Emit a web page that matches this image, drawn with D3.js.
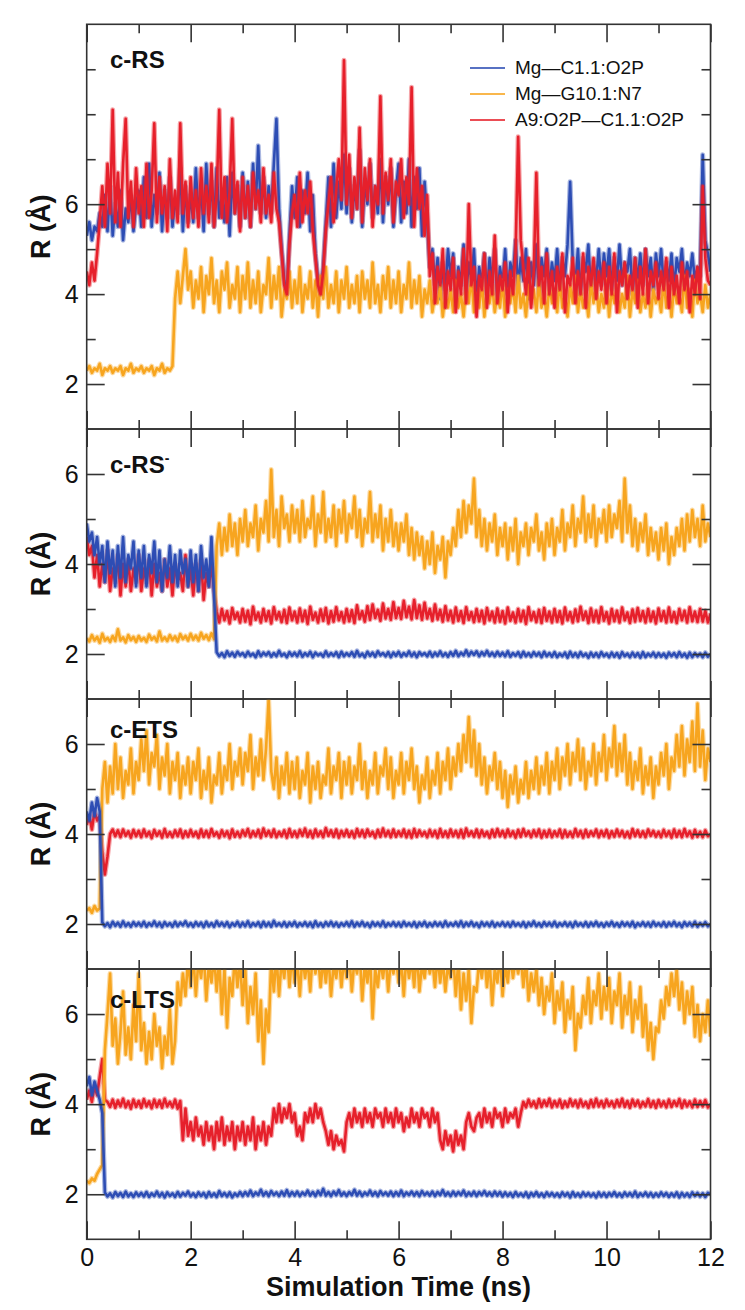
<!DOCTYPE html>
<html>
<head>
<meta charset="utf-8">
<script src="https://cdn.jsdelivr.net/npm/d3@7/dist/d3.min.js"></script>
<style>
  body { margin: 0; background: #fff; }
  text { font-family: "Liberation Sans", Arial, Helvetica, sans-serif; fill: #111; }
</style>
</head>
<body>
<div id="chart"></div>
<script>
// sampling step of the traces (ns)
const dt = 0.05;

const seriesNames = ["Mg\u2014C1.1:O2P", "Mg\u2014G10.1:N7", "A9:O2P\u2014C1.1:O2P"];
const panelNames = ["c-RS", "c-RS", "c-ETS", "c-LTS"];
const xTicks = [0, 2, 4, 6, 8, 10, 12];
const xMinor = [1, 3, 5, 7, 9, 11];
const yTicks = [2, 4, 6];

// ---- c-RS ----
const rsMgC1 = [
  5.3,5.6,5.2,5.5,5.4,5.8,5.5,6.2,5.4,6.4,5.3,6.0,5.5,6.3,5.2,5.9,5.6,6.2,5.4,6.0,
  6.3,5.5,6.6,5.7,6.9,5.5,6.2,5.8,6.7,5.4,6.3,5.7,6.6,5.5,6.1,5.8,6.8,5.4,6.4,5.6,
  6.2,5.6,6.8,5.7,6.4,5.4,6.9,5.8,6.5,5.5,6.8,5.7,6.2,5.6,6.6,5.3,6.7,5.8,6.4,5.5,
  6.7,5.7,6.5,5.5,6.9,5.9,7.3,5.8,6.6,5.7,6.4,5.8,6.9,7.9,5.9,5.0,4.3,4.0,5.3,6.4,
  5.7,6.6,5.5,6.3,5.8,6.7,5.4,6.2,4.9,4.3,4.0,4.6,5.6,6.6,5.5,6.9,5.7,6.5,5.9,7.1,
  5.8,6.8,5.6,6.4,5.9,7.2,5.5,6.5,6.0,6.9,5.7,6.4,5.8,7.0,5.6,6.6,6.0,6.8,5.5,6.3,
  6.9,5.6,6.5,5.8,7.0,5.5,6.6,5.9,6.8,5.3,6.5,5.6,4.6,5.0,4.2,4.8,3.9,4.7,4.1,5.0,
  4.4,4.9,3.9,4.6,4.2,5.1,4.0,4.7,4.3,5.0,3.8,4.6,4.2,4.9,4.0,4.8,4.3,5.0,3.9,4.6,
  4.2,5.0,4.0,4.7,4.4,5.2,4.1,4.8,4.3,5.0,3.9,4.7,4.2,5.1,4.0,4.8,4.4,5.0,4.1,4.7,
  4.3,5.0,4.1,4.8,4.4,5.1,6.5,4.7,4.2,5.0,4.0,4.8,4.5,5.1,4.1,4.7,4.3,5.0,4.2,4.9,
  4.4,5.0,4.1,4.8,4.3,5.1,4.2,4.7,4.5,5.0,4.0,4.8,4.3,4.9,4.2,5.0,4.4,4.8,4.1,4.9,
  4.4,5.0,4.2,4.7,4.3,4.9,4.1,4.8,4.5,5.0,4.2,4.7,4.4,4.9,4.3,4.6,4.4,7.1,5.2,4.9,
  4.5
];
const rsMgG10 = [
  2.3,2.4,2.25,2.35,2.3,2.45,2.2,2.35,2.3,2.4,2.25,2.35,2.3,2.4,2.2,2.35,2.3,2.45,2.25,2.35,
  2.3,2.4,2.25,2.35,2.3,2.4,2.2,2.35,2.3,2.45,2.25,2.35,2.3,2.4,3.9,4.5,3.8,4.4,5.0,4.1,
  4.5,3.7,4.3,3.9,4.6,3.6,4.4,4.0,4.8,3.8,4.3,3.6,4.5,4.1,4.7,3.7,4.2,3.9,4.6,3.6,
  4.4,3.9,4.7,3.7,4.3,3.8,4.5,3.6,4.2,4.0,4.8,3.7,4.4,3.9,4.6,3.5,4.1,3.9,4.5,3.7,
  4.3,3.8,4.6,3.6,4.2,3.9,4.5,3.7,4.3,3.5,4.4,3.9,4.6,3.7,4.2,3.8,4.5,3.6,4.3,3.9,
  4.6,3.7,4.2,3.8,4.4,3.6,4.5,3.9,4.3,3.7,4.7,3.8,4.2,3.6,4.4,3.9,4.6,3.7,4.3,3.8,
  4.5,3.6,4.2,3.9,4.7,3.7,4.3,3.8,4.4,3.5,4.1,3.8,4.3,3.6,4.0,3.8,4.2,3.5,4.0,3.7,
  4.1,3.6,4.3,3.7,4.0,3.5,4.2,3.8,4.4,3.6,4.0,3.7,4.3,3.5,4.1,3.8,4.2,3.6,4.0,3.7,
  4.3,3.5,4.1,3.8,4.2,3.6,4.4,3.7,4.0,3.5,4.2,3.8,4.1,3.6,4.3,3.7,4.0,3.5,4.2,3.8,
  4.1,3.6,4.3,3.7,4.0,3.5,4.2,3.8,4.4,3.6,4.1,3.7,4.0,3.5,4.3,3.8,4.2,3.6,4.0,3.7,
  4.3,3.5,4.1,3.8,4.2,3.6,4.0,3.7,4.4,3.5,4.1,3.8,4.3,3.6,4.0,3.7,4.2,3.5,4.1,3.8,
  4.0,3.6,4.3,3.7,4.1,3.5,4.2,3.8,4.0,3.6,4.4,3.7,4.1,3.5,4.3,3.8,4.0,3.6,4.2,3.7,
  4.0
];
const rsA9C1 = [
  4.5,4.2,4.7,4.3,4.9,5.6,6.4,5.5,6.9,5.8,8.1,5.6,6.7,5.5,6.9,7.9,5.7,6.5,5.5,6.8,
  5.8,6.4,5.5,6.9,5.7,6.3,7.8,5.6,6.6,5.8,6.4,5.4,7.0,5.7,6.3,5.6,7.8,5.8,6.5,5.5,
  6.6,5.7,6.3,5.5,6.8,5.8,6.4,5.6,6.9,5.5,6.2,8.1,5.7,6.6,5.6,6.3,7.9,5.8,6.5,5.4,
  6.6,5.7,6.4,5.5,6.7,5.9,6.3,5.6,6.8,5.8,6.2,5.6,6.7,5.9,5.6,4.9,4.2,4.0,5.1,5.8,
  6.2,5.5,6.7,5.6,6.3,5.8,6.5,5.4,4.8,4.2,4.0,4.5,5.4,6.0,6.6,5.6,6.3,7.0,6.1,9.2,
  6.0,7.1,5.7,6.6,5.9,7.7,5.6,6.8,6.1,7.0,5.5,6.4,6.0,8.4,5.8,6.7,6.1,7.0,5.6,6.5,
  6.2,7.0,5.7,6.6,6.0,8.6,5.5,6.8,5.9,6.4,5.3,6.2,4.4,4.9,3.8,4.6,4.2,5.0,3.7,4.5,
  4.1,4.8,3.6,4.5,4.0,5.0,3.8,6.0,4.2,4.6,3.5,4.4,4.1,4.9,3.7,4.5,4.0,5.3,3.8,4.4,
  4.1,4.7,3.6,4.5,4.0,4.9,7.5,5.2,4.6,4.0,4.8,3.7,4.5,6.7,4.2,4.6,3.8,4.9,4.0,4.5,
  3.7,4.6,4.1,4.9,3.6,4.4,4.2,4.8,3.8,4.5,4.0,4.9,3.7,4.6,4.2,4.8,3.9,4.5,4.1,4.7,
  3.8,4.6,4.0,4.9,3.6,4.5,4.2,4.7,3.9,4.4,4.1,4.8,3.7,4.6,4.0,5.0,3.8,4.5,4.2,4.7,
  3.9,4.5,4.1,4.8,3.7,4.6,4.0,4.4,3.8,4.7,4.1,4.5,3.6,4.4,4.0,4.6,3.9,6.4,4.8,4.3,
  4.2
];

// ---- c-RS- ----
const rsmMgC1 = [
  4.9,4.5,4.7,4.2,4.6,4.0,4.4,3.6,4.5,3.8,4.3,3.5,4.4,3.7,4.6,3.6,4.2,3.9,4.5,3.5,
  4.3,3.7,4.4,3.5,4.2,3.8,4.5,3.6,4.3,3.4,4.1,3.7,4.4,3.6,4.2,3.5,4.3,3.8,4.1,3.5,
  4.3,3.6,4.2,3.4,4.4,3.7,4.1,3.5,4.6,3.3,2.04,1.95,2.02,1.93,2.06,1.96,2.03,1.94,2.05,1.97,
  2.02,1.94,2.05,1.96,2.01,1.93,2.06,1.95,2.03,1.97,2.04,1.94,2.02,1.95,2.07,1.96,2.01,1.93,2.04,1.96,
  2.03,1.95,2.06,1.94,2.02,1.96,2.05,1.93,2.03,1.97,2.01,1.94,2.06,1.95,2.02,1.96,2.04,1.93,2.05,1.95,
  2.02,1.96,2.04,1.94,2.07,1.95,2.01,1.93,2.05,1.96,2.03,1.94,2.06,1.97,2.02,1.95,2.04,1.93,2.03,1.96,
  2.05,1.94,2.02,1.96,2.06,1.95,2.03,1.93,2.04,1.97,2.02,1.95,2.05,1.94,2.03,1.96,2.06,1.95,2.02,1.94,
  2.04,1.96,2.07,1.95,2.03,1.97,2.08,1.96,2.05,1.98,2.06,1.95,2.04,1.97,2.07,1.96,2.03,1.95,2.05,1.96,
  2.03,1.95,2.06,1.94,2.02,1.96,2.04,1.93,2.05,1.95,2.02,1.94,2.04,1.96,2.03,1.93,2.05,1.95,2.02,1.94,
  2.04,1.93,2.01,1.95,2.03,1.92,2.05,1.94,2.02,1.93,2.04,1.95,2.01,1.92,2.03,1.94,2.02,1.93,2.04,1.95,
  2.01,1.93,2.03,1.94,2.02,1.92,2.04,1.95,2.01,1.93,2.03,1.94,2.02,1.92,2.04,1.93,2.01,1.95,2.03,1.93,
  2.02,1.94,2.01,1.92,2.03,1.95,2.02,1.93,2.04,1.94,2.01,1.92,2.03,1.93,2.02,1.95,2.01,1.93,2.03,1.94,
  2.0
];
const rsmMgG10 = [
  2.35,2.28,2.42,2.3,2.38,2.25,2.45,2.3,2.36,2.27,2.4,2.29,2.55,2.3,2.37,2.26,2.42,2.31,2.38,2.27,
  2.4,2.3,2.36,2.27,2.43,2.32,2.38,2.28,2.5,2.3,2.37,2.29,2.42,2.31,2.39,2.28,2.44,2.33,2.4,2.3,
  2.45,2.32,2.41,2.3,2.47,2.34,2.42,2.31,2.46,2.33,4.4,4.9,4.2,4.8,4.3,5.1,4.4,4.9,4.2,5.0,
  4.5,5.2,4.4,4.9,4.6,5.3,4.3,5.0,4.7,5.4,4.5,6.1,4.6,5.2,4.4,5.5,4.8,5.1,4.5,5.3,
  4.7,5.2,4.5,5.4,4.6,5.0,4.8,5.5,4.4,5.1,4.7,5.6,4.5,5.0,4.6,5.3,4.4,5.2,4.7,5.4,
  4.5,5.1,4.8,5.5,4.6,5.2,4.4,5.0,4.7,5.6,4.5,5.1,4.6,5.3,4.3,5.0,4.5,5.2,4.4,4.9,
  4.3,4.9,4.5,5.1,4.2,4.8,4.1,4.7,4.2,4.6,3.9,4.5,4.0,4.7,3.8,4.4,4.1,4.6,3.7,4.5,
  4.2,4.8,4.4,5.2,4.6,5.4,4.7,5.3,4.9,5.9,4.6,5.2,4.4,5.0,4.3,4.9,4.5,5.1,4.2,4.8,
  4.4,4.9,4.1,4.8,4.3,5.0,4.0,4.7,4.4,4.9,4.2,4.8,4.5,5.1,4.3,4.7,4.1,4.9,4.4,5.0,
  4.2,4.8,4.5,5.2,4.3,4.9,4.6,5.3,4.4,5.0,4.7,5.5,4.5,5.1,4.6,5.3,4.4,5.0,4.7,5.2,
  4.5,5.3,4.6,5.1,4.8,5.4,4.5,5.9,4.7,5.3,4.4,5.0,4.3,4.9,4.5,5.1,4.2,4.8,4.3,4.7,
  4.1,4.8,4.3,4.9,4.0,4.6,4.2,4.8,4.4,5.0,4.3,5.1,4.5,5.2,4.6,5.0,4.4,5.3,4.5,4.9,
  4.6
];
const rsmA9C1 = [
  4.6,4.2,4.4,3.7,4.2,3.5,4.0,3.6,4.3,3.4,3.9,3.6,4.2,3.3,4.0,3.5,4.1,3.4,3.9,3.6,
  4.2,3.4,3.9,3.6,4.1,3.3,4.0,3.5,3.8,3.4,4.1,3.5,3.9,3.3,4.0,3.6,3.8,3.4,4.2,3.5,
  3.9,3.3,4.0,3.4,4.1,3.2,3.8,3.5,4.0,3.4,2.95,2.7,3.0,2.75,2.95,2.68,3.02,2.78,2.92,2.7,
  3.0,2.72,2.96,2.66,3.05,2.76,2.92,2.7,3.0,2.74,2.95,2.68,3.04,2.77,2.93,2.71,2.98,2.69,3.03,2.75,
  2.94,2.7,3.01,2.73,2.96,2.67,3.05,2.76,2.92,2.7,2.99,2.74,3.02,2.68,2.95,2.72,3.04,2.75,2.93,2.7,
  3.0,2.73,2.97,2.69,3.08,2.78,2.95,2.72,3.06,2.76,3.1,2.8,2.98,2.74,3.12,2.79,3.0,2.76,3.15,2.8,
  3.02,2.78,3.18,2.82,3.05,2.77,3.2,2.8,3.08,2.76,3.14,2.79,3.0,2.74,3.1,2.77,2.98,2.72,3.06,2.75,
  2.96,2.7,3.03,2.74,2.95,2.69,3.04,2.76,2.93,2.71,3.0,2.73,2.96,2.68,3.02,2.75,2.94,2.7,3.01,2.72,
  2.95,2.68,3.03,2.74,2.92,2.7,3.0,2.73,2.96,2.67,3.04,2.75,2.93,2.71,2.98,2.69,3.02,2.74,2.94,2.7,
  3.0,2.72,2.95,2.68,3.03,2.75,2.93,2.7,2.99,2.73,3.05,2.76,2.94,2.69,3.01,2.72,2.96,2.7,3.04,2.74,
  2.93,2.68,3.0,2.73,2.96,2.7,3.03,2.75,2.92,2.69,2.99,2.72,3.02,2.74,2.95,2.7,3.0,2.73,2.94,2.68,
  3.01,2.74,2.95,2.7,3.03,2.72,2.93,2.69,3.0,2.75,2.96,2.7,3.04,2.73,2.94,2.71,3.0,2.72,2.96,2.7,
  2.9
];

// ---- c-ETS ----
const etsMgC1 = [
  4.5,4.3,4.7,4.4,4.8,4.5,2.04,1.95,2.02,1.93,2.05,1.96,2.03,1.94,2.06,1.95,2.02,1.94,2.04,1.96,
  2.03,1.95,2.05,1.94,2.02,1.96,2.06,1.95,2.03,1.93,2.04,1.96,2.02,1.94,2.05,1.95,2.03,1.97,2.06,1.95,
  2.02,1.94,2.04,1.96,2.03,1.93,2.05,1.95,2.02,1.94,2.06,1.96,2.03,1.95,2.04,1.93,2.02,1.96,2.05,1.94,
  2.03,1.95,2.06,1.94,2.02,1.96,2.04,1.93,2.05,1.95,2.03,1.94,2.07,1.96,2.02,1.95,2.04,1.94,2.03,1.96,
  2.05,1.94,2.02,1.96,2.04,1.95,2.03,1.93,2.06,1.95,2.02,1.94,2.04,1.96,2.05,1.95,2.03,1.94,2.02,1.96,
  2.04,1.95,2.06,1.94,2.03,1.96,2.05,1.95,2.02,1.93,2.04,1.96,2.03,1.95,2.06,1.94,2.02,1.96,2.04,1.95,
  2.03,1.94,2.05,1.96,2.02,1.95,2.04,1.93,2.03,1.96,2.05,1.94,2.02,1.95,2.04,1.96,2.03,1.94,2.06,1.95,
  2.02,1.96,2.04,1.95,2.06,1.94,2.03,1.96,2.05,1.95,2.02,1.93,2.04,1.96,2.03,1.95,2.05,1.94,2.02,1.96,
  2.04,1.95,2.03,1.94,2.05,1.96,2.02,1.95,2.04,1.93,2.03,1.96,2.06,1.95,2.02,1.94,2.04,1.96,2.03,1.95,
  2.05,1.94,2.02,1.96,2.04,1.95,2.03,1.93,2.05,1.96,2.02,1.95,2.04,1.94,2.03,1.96,2.05,1.95,2.02,1.94,
  2.03,1.96,2.05,1.95,2.02,1.94,2.04,1.96,2.03,1.95,2.05,1.93,2.02,1.96,2.04,1.95,2.03,1.94,2.05,1.96,
  2.02,1.95,2.04,1.94,2.03,1.96,2.05,1.95,2.02,1.93,2.04,1.96,2.03,1.95,2.05,1.94,2.02,1.96,2.04,1.95,
  2.0
];
const etsMgG10 = [
  2.3,2.35,2.25,2.4,2.3,2.35,5.0,5.6,4.7,5.5,4.9,6.0,5.0,5.7,4.8,5.4,5.1,5.9,4.9,5.6,
  5.2,6.1,5.4,6.3,5.1,5.8,5.5,6.2,5.0,5.7,5.3,6.0,4.9,5.6,5.2,5.8,4.8,5.5,5.1,5.7,
  4.9,5.6,5.2,5.9,4.8,5.4,5.0,5.7,4.7,5.3,5.1,5.8,4.9,5.5,5.2,6.0,5.0,5.6,5.3,5.9,
  5.1,5.8,5.4,6.2,5.0,5.7,5.3,6.1,5.2,5.9,7.0,5.4,5.0,5.7,4.8,5.5,5.1,5.8,4.9,5.6,
  5.0,5.7,4.8,5.4,5.1,5.8,4.7,5.5,5.0,5.6,4.8,5.3,5.1,5.9,4.9,5.5,5.2,5.8,4.8,5.6,
  5.1,5.7,4.9,5.5,5.2,6.0,5.0,5.6,4.8,5.4,5.1,5.8,4.9,5.5,5.3,5.9,5.0,5.7,4.8,5.4,
  5.1,5.8,4.9,5.6,5.2,5.9,5.0,5.5,4.7,5.3,5.0,5.7,4.8,5.4,5.1,5.8,4.9,5.6,5.2,5.9,
  5.0,5.7,5.3,6.0,5.4,6.2,5.6,6.6,5.5,6.3,5.3,6.0,5.1,5.7,4.9,5.5,5.2,5.8,5.0,5.6,
  4.8,5.4,4.6,5.3,4.9,5.5,4.7,5.2,4.9,5.6,4.8,5.4,5.0,5.7,4.9,5.5,5.1,5.8,4.9,5.6,
  5.2,5.9,5.0,5.7,5.3,6.0,5.1,5.8,5.4,6.1,5.2,5.9,5.0,5.6,5.3,6.0,5.1,5.8,5.4,6.2,
  5.2,5.9,5.5,6.4,5.3,6.0,5.4,6.2,5.1,5.8,5.0,5.6,5.2,5.9,4.9,5.5,5.1,5.7,4.8,5.5,
  5.1,5.8,5.3,6.0,5.0,5.7,5.4,6.2,5.5,6.4,5.3,6.1,5.6,6.5,5.4,6.9,5.5,6.3,5.2,5.9,
  5.6
];
const etsA9C1 = [
  4.2,4.4,4.1,4.5,4.3,4.4,3.6,3.1,3.5,4.0,4.1,3.95,4.08,3.93,4.1,3.96,4.06,3.92,4.09,3.95,
  4.07,3.93,4.1,3.95,4.05,3.91,4.09,3.96,4.06,3.92,4.11,3.94,4.04,3.93,4.08,3.95,4.1,3.92,4.06,3.94,
  4.09,3.95,4.05,3.92,4.1,3.94,4.07,3.93,4.11,3.96,4.04,3.92,4.08,3.95,4.06,3.91,4.1,3.94,4.05,3.93,
  4.08,3.96,4.11,3.93,4.06,3.95,4.09,3.92,4.12,3.96,4.07,3.94,4.1,3.93,4.05,3.95,4.08,3.92,4.11,3.94,
  4.06,3.93,4.09,3.96,4.12,3.94,4.07,3.92,4.1,3.95,4.06,3.93,4.13,3.96,4.08,3.94,4.1,3.92,4.07,3.95,
  4.09,3.94,4.06,3.92,4.11,3.95,4.08,3.93,4.1,3.96,4.05,3.92,4.09,3.94,4.12,3.95,4.07,3.93,4.1,3.94,
  4.06,3.95,4.1,3.93,4.07,3.92,4.11,3.94,4.08,3.96,4.05,3.93,4.09,3.95,4.07,3.92,4.11,3.94,4.06,3.93,
  4.1,3.95,4.07,3.93,4.09,3.92,4.12,3.96,4.06,3.94,4.1,3.93,4.08,3.95,4.05,3.92,4.09,3.94,4.11,3.95,
  4.07,3.93,4.1,3.95,4.06,3.92,4.09,3.94,4.11,3.96,4.06,3.93,4.08,3.95,4.1,3.92,4.07,3.94,4.09,3.93,
  4.06,3.95,4.1,3.92,4.08,3.94,4.05,3.93,4.11,3.95,4.07,3.92,4.09,3.94,4.06,3.96,4.1,3.93,4.07,3.95,
  4.09,3.92,4.06,3.94,4.1,3.95,4.07,3.93,4.05,3.92,4.11,3.95,4.08,3.94,4.06,3.93,4.1,3.96,4.07,3.94,
  4.05,3.93,4.09,3.95,4.06,3.92,4.1,3.94,4.07,3.93,4.11,3.95,4.06,3.92,4.09,3.94,4.05,3.93,4.08,3.95,
  4.0
];

// ---- c-LTS ----
const ltsMgC1 = [
  4.4,4.6,4.2,4.5,4.3,4.1,3.8,2.04,1.95,2.02,1.93,2.05,1.96,2.03,1.94,2.06,1.95,2.02,1.94,2.04,
  1.96,2.03,1.95,2.05,1.94,2.02,1.96,2.06,1.95,2.03,1.93,2.04,1.96,2.02,1.94,2.05,1.95,2.03,1.97,2.06,
  1.95,2.02,1.94,2.04,1.96,2.03,1.93,2.05,1.95,2.02,1.94,2.07,1.96,2.03,1.95,2.04,1.93,2.02,1.96,2.05,
  1.96,2.05,1.97,2.08,1.96,2.04,1.98,2.1,1.97,2.05,1.96,2.07,1.98,2.04,1.96,2.06,1.97,2.09,1.96,2.05,
  1.97,2.06,1.96,2.04,1.98,2.08,1.97,2.05,1.96,2.07,1.98,2.12,1.97,2.05,1.96,2.06,1.98,2.09,1.97,2.04,
  1.96,2.05,1.98,2.1,1.97,2.06,1.96,2.04,1.98,2.08,1.97,2.05,1.96,2.07,1.98,2.04,1.97,2.06,1.96,2.05,
  1.97,2.08,1.96,2.04,1.98,2.06,1.97,2.05,1.96,2.07,1.98,2.04,1.97,2.06,1.96,2.05,1.98,2.09,1.97,2.04,
  1.96,2.06,1.97,2.05,1.98,2.08,1.96,2.04,1.97,2.06,1.96,2.05,1.98,2.07,1.97,2.04,1.96,2.06,1.97,2.05,
  1.95,2.04,1.96,2.03,1.94,2.05,1.96,2.02,1.95,2.04,1.93,2.03,1.96,2.05,1.95,2.02,1.94,2.04,1.96,2.03,
  1.95,2.02,1.94,2.04,1.96,2.03,1.93,2.05,1.95,2.02,1.94,2.04,1.96,2.03,1.95,2.02,1.93,2.04,1.95,2.03,
  1.94,2.03,1.96,2.05,1.95,2.02,1.94,2.04,1.96,2.03,1.95,2.06,1.94,2.02,1.96,2.04,1.95,2.03,1.94,2.02,
  1.95,2.04,1.96,2.03,1.94,2.02,1.95,2.04,1.93,2.03,1.95,2.02,1.94,2.04,1.96,2.03,1.95,2.02,1.94,2.03,
  2.0
];
const ltsMgG10 = [
  2.3,2.25,2.35,2.3,2.45,2.55,2.65,5.2,6.0,6.9,5.3,5.9,4.9,5.6,6.5,5.1,5.7,5.0,6.2,5.4,
  6.9,5.2,5.8,4.9,5.6,5.0,6.0,5.3,5.7,4.8,5.5,5.1,6.1,4.9,5.4,6.7,6.2,6.9,6.4,7.2,
  6.6,7.3,6.4,7.2,6.8,7.4,6.3,7.1,6.7,7.3,6.5,7.2,6.0,7.0,5.7,6.8,6.4,7.3,6.6,7.2,
  6.2,7.0,5.8,6.6,6.0,6.9,5.4,6.3,4.9,6.1,5.6,7.2,6.5,7.3,6.4,7.2,6.8,7.4,6.6,7.3,
  6.7,7.2,6.4,7.3,6.8,7.2,6.5,7.4,6.9,7.3,6.6,7.2,6.7,7.3,6.4,7.1,6.8,7.3,6.6,7.2,
  6.8,7.3,6.5,7.2,6.9,7.4,6.3,7.1,6.7,7.3,5.9,7.0,6.6,7.2,6.8,7.3,6.5,7.2,6.9,7.3,
  6.7,7.2,6.4,7.3,6.8,7.2,6.6,7.4,6.5,7.1,6.8,7.3,6.9,7.2,6.6,7.3,6.7,7.2,6.5,7.1,
  6.8,7.3,6.4,7.2,6.1,6.9,6.3,7.0,5.8,6.6,6.5,7.2,6.8,7.3,6.6,7.2,6.2,7.0,6.7,7.3,
  6.4,7.1,6.7,7.3,6.8,7.2,6.9,7.3,6.6,7.2,6.3,6.9,6.5,7.0,6.2,6.8,6.0,6.6,6.3,6.9,
  5.8,6.5,6.1,6.7,5.6,6.3,5.9,6.6,5.2,6.0,5.7,6.4,6.0,6.8,5.8,6.5,6.2,6.9,5.9,6.6,
  6.1,6.8,5.8,6.5,6.2,6.9,5.7,6.4,6.0,6.7,5.6,6.3,5.9,6.6,5.5,6.2,5.2,5.8,5.0,5.7,
  5.6,6.3,5.9,6.6,6.2,6.9,6.4,7.0,6.1,6.7,5.8,6.5,6.0,6.6,5.5,6.2,5.4,6.0,5.6,6.3,
  5.5
];
const ltsA9C1 = [
  4.1,4.3,4.05,4.4,4.2,4.6,5.0,4.1,4.05,3.94,4.1,3.92,4.08,3.95,4.12,3.93,4.06,3.9,4.1,3.94,
  4.07,3.92,4.11,3.95,4.06,3.91,4.1,3.94,4.08,3.92,4.12,3.95,4.05,3.93,4.1,3.9,4.07,3.2,3.9,3.3,
  3.6,3.2,3.7,3.3,3.5,3.1,3.6,3.2,3.5,3.0,3.6,3.2,3.7,3.1,3.5,3.2,3.6,3.0,3.5,3.2,
  3.6,3.1,3.5,3.2,3.7,3.0,3.5,3.2,3.6,3.1,3.5,3.3,3.9,3.6,4.0,3.6,3.9,3.7,4.0,3.6,
  3.8,3.3,3.5,3.2,3.8,3.6,3.9,3.6,4.0,3.7,3.9,3.6,3.4,3.1,3.4,3.0,3.3,3.1,3.2,2.95,
  3.6,3.8,3.5,3.9,3.6,3.8,3.5,3.9,3.6,3.8,3.5,3.9,3.7,3.8,3.5,3.9,3.6,3.8,3.5,3.9,
  3.6,3.8,3.4,3.7,3.5,3.9,3.6,3.8,3.5,3.9,3.7,3.8,3.5,3.9,3.6,3.8,3.2,3.0,3.4,3.1,
  3.3,2.95,3.4,3.1,3.3,3.0,3.6,3.8,3.5,3.4,3.7,3.8,3.5,3.9,3.6,3.8,3.5,3.9,3.7,3.8,
  3.5,3.9,3.6,3.8,3.7,3.9,3.5,3.8,4.05,3.93,4.1,3.95,4.06,3.92,4.11,3.94,4.08,3.96,4.12,3.93,
  4.07,3.95,4.1,3.92,4.06,3.94,4.11,3.96,4.08,3.93,4.1,3.95,4.05,3.92,4.09,3.94,4.12,3.95,4.07,3.93,
  4.1,3.96,4.06,3.93,4.09,3.95,4.12,3.94,4.07,3.92,4.1,3.96,4.08,3.93,4.05,3.95,4.11,3.94,4.07,3.92,
  4.09,3.95,4.06,3.93,4.1,3.94,4.07,3.96,4.11,3.92,4.08,3.95,4.06,3.93,4.1,3.94,4.07,3.95,4.09,3.93,
  4.0
];

// layout
const W = 745, H = 1310;
const colors = ["#2d4db4", "#f7a51f", "#e6202b"];
const x = d3.scaleLinear().domain([0, 12]).range([86.7, 710.5]);

const panels = [
  { name: panelNames[0], sup: false, top: 24.3, bottom: 429, yMax: 10, labelDy: 44,
    data: [rsMgC1, rsMgG10, rsA9C1], order: [0, 1, 2], minor: [3, 5, 7, 8, 9] },
  { name: panelNames[1], sup: true, top: 429, bottom: 699, yMax: 7, labelDy: 44,
    data: [rsmMgC1, rsmMgG10, rsmA9C1], order: [2, 1, 0], minor: [3, 5] },
  { name: panelNames[2], sup: false, top: 699, bottom: 969, yMax: 7, labelDy: 39,
    data: [etsMgC1, etsMgG10, etsA9C1], order: [2, 1, 0], minor: [3, 5] },
  { name: panelNames[3], sup: false, top: 969, bottom: 1239.3, yMax: 7, labelDy: 39,
    data: [ltsMgC1, ltsMgG10, ltsA9C1], order: [2, 1, 0], minor: [3, 5] }
];

const svg = d3.select("#chart").append("svg")
    .attr("width", W)
    .attr("height", H);

const axisColor = "#333";

panels.forEach((p, pi) => {
    const y = d3.scaleLinear().domain([1, p.yMax]).range([p.bottom, p.top]);
    const g = svg.append("g");

    // clip traces to the panel box
    g.append("clipPath").attr("id", "clip" + pi)
        .append("rect")
        .attr("x", x(0)).attr("y", p.top)
        .attr("width", x(12) - x(0)).attr("height", p.bottom - p.top);

    const line = d3.line()
        .x((d, i) => x(i * dt))
        .y(d => y(d));

    const traces = g.append("g").attr("clip-path", `url(#clip${pi})`);
    p.order.forEach(k => {
        // soft halo, then the trace itself
        traces.append("path")
            .datum(p.data[k])
            .attr("d", line)
            .attr("fill", "none")
            .attr("stroke", colors[k])
            .attr("stroke-opacity", 0.4)
            .attr("stroke-linejoin", "round")
            .attr("stroke-width", 5);
        traces.append("path")
            .datum(p.data[k])
            .attr("d", line)
            .attr("fill", "none")
            .attr("stroke", colors[k])
            .attr("stroke-linejoin", "round")
            .attr("stroke-width", 2.6);
    });

    // ticks on all four sides, pointing inward
    const addAxis = (axis, tx, ty) => {
        const a = g.append("g").attr("transform", `translate(${tx},${ty})`).call(axis);
        a.select(".domain").remove();
        a.selectAll(".tick line").attr("stroke", axisColor).attr("stroke-width", 1.6);
        a.selectAll("text").attr("font-size", 25).attr("fill", "#111");
        return a;
    };
    addAxis(d3.axisLeft(y).tickValues(yTicks).tickSize(-18).tickPadding(8).tickFormat(d3.format("d")), x(0), 0);
    addAxis(d3.axisLeft(y).tickValues(p.minor).tickSize(-9).tickFormat(""), x(0), 0);
    addAxis(d3.axisRight(y).tickValues(yTicks).tickSize(-18).tickFormat(""), x(12), 0);
    addAxis(d3.axisRight(y).tickValues(p.minor).tickSize(-9).tickFormat(""), x(12), 0);
    addAxis(d3.axisTop(x).tickValues(xTicks).tickSize(-18).tickFormat(""), 0, p.top);
    addAxis(d3.axisTop(x).tickValues(xMinor).tickSize(-9).tickFormat(""), 0, p.top);
    const last = pi === panels.length - 1;
    addAxis(d3.axisBottom(x).tickValues(xTicks).tickSize(-18).tickPadding(9)
        .tickFormat(last ? d3.format("d") : ""), 0, p.bottom);
    addAxis(d3.axisBottom(x).tickValues(xMinor).tickSize(-9).tickFormat(""), 0, p.bottom);

    // panel frame
    g.append("rect")
        .attr("x", x(0)).attr("y", p.top)
        .attr("width", x(12) - x(0)).attr("height", p.bottom - p.top)
        .attr("fill", "none")
        .attr("stroke", axisColor)
        .attr("stroke-width", 1.6);

    // panel name
    const lab = g.append("text")
        .attr("x", 110)
        .attr("y", p.top + p.labelDy)
        .attr("font-size", 24)
        .attr("font-weight", "bold")
        .text(p.name);
    if (p.sup) {
        lab.append("tspan").attr("font-size", 14).attr("dy", -10).text("-");
    }

    // y title
    g.append("text")
        .attr("transform", `translate(50,${(p.top + p.bottom) / 2}) rotate(-90)`)
        .attr("text-anchor", "middle")
        .attr("font-size", 27)
        .attr("font-weight", "bold")
        .text("R (\u00c5)");
});

// legend in the first panel
const legend = svg.append("g");
seriesNames.forEach((name, k) => {
    const ly = 68 + k * 26;
    legend.append("line")
        .attr("x1", 470).attr("x2", 505)
        .attr("y1", ly).attr("y2", ly)
        .attr("stroke", colors[k])
        .attr("stroke-opacity", 0.8)
        .attr("stroke-width", 1.8);
    legend.append("text")
        .attr("x", 515).attr("y", ly + 6)
        .attr("font-size", 19)
        .text(name);
});

// x title
svg.append("text")
    .attr("x", (x(0) + x(12)) / 2)
    .attr("y", 1296)
    .attr("text-anchor", "middle")
    .attr("font-size", 27)
    .attr("font-weight", "bold")
    .text("Simulation Time (ns)");
</script>
</body>
</html>
